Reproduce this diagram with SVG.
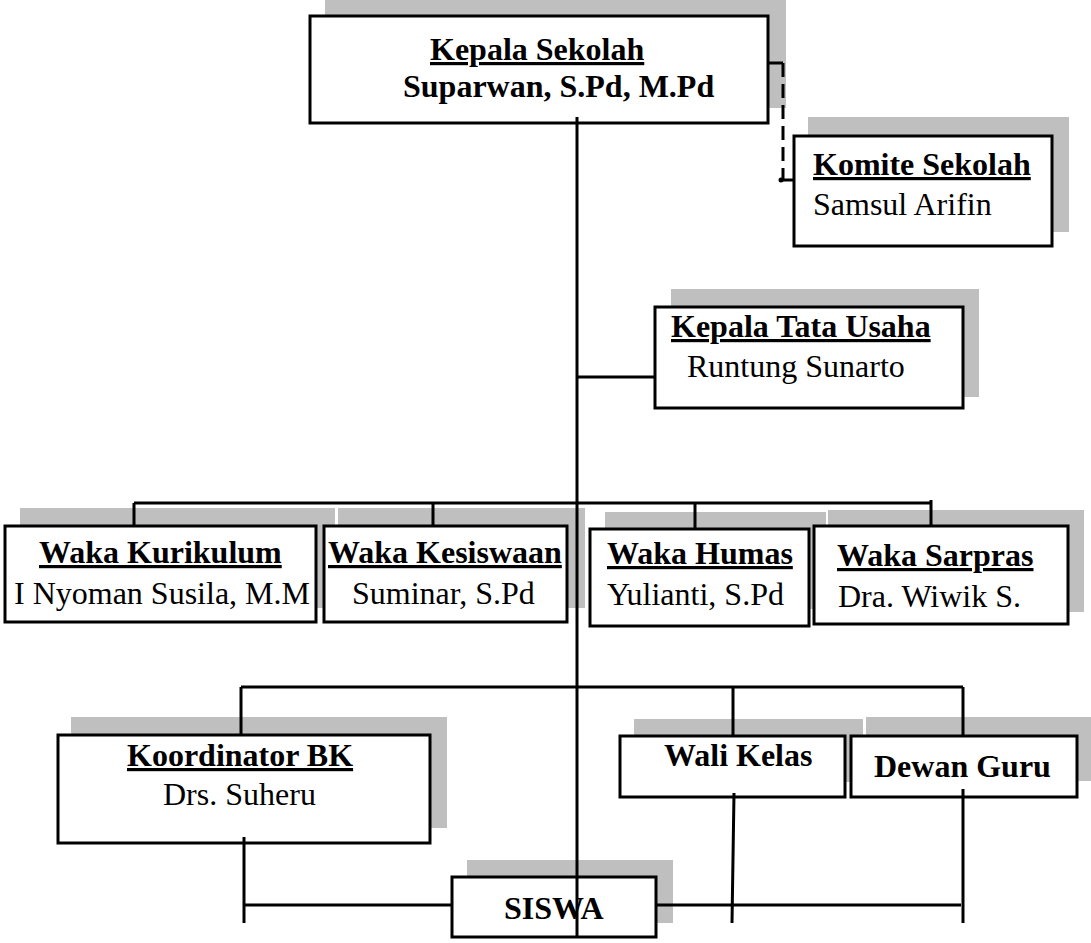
<svg xmlns="http://www.w3.org/2000/svg" width="1091" height="943" viewBox="0 0 1091 943">
<style>
.sh{fill:#bfbfbf}
.bx{fill:#fff;stroke:#000;stroke-width:3}
.t{font-family:"Liberation Serif","Times New Roman",serif;font-size:32px;fill:#000}
.b{font-weight:bold}
.u{text-decoration:underline;text-decoration-thickness:3px}
.ln{stroke:#000;stroke-width:3;fill:none}
.dash{stroke-dasharray:14 7}
</style>
<rect width="1091" height="943" fill="#fff"/>
<g id="kepala-sekolah">
<rect class="sh" x="325" y="0" width="461" height="108"/>
<rect class="bx" x="310" y="16" width="458" height="107"/>
<text class="t b u" x="430" y="60">Kepala Sekolah</text>
<text class="t b" x="403" y="97">Suparwan, S.Pd, M.Pd</text>
</g>
<g id="komite-sekolah">
<rect class="sh" x="808" y="117" width="261" height="115"/>
<rect class="bx" x="794" y="136" width="258" height="110"/>
<text class="t b u" x="813" y="175">Komite Sekolah</text>
<text class="t" x="813" y="215">Samsul Arifin</text>
</g>
<g id="kepala-tata-usaha">
<rect class="sh" x="671" y="289" width="308" height="108"/>
<rect class="bx" x="655" y="307" width="308" height="101"/>
<text class="t b u" x="671" y="337">Kepala Tata Usaha</text>
<text class="t" x="687" y="377">Runtung Sunarto</text>
</g>
<g id="waka-kurikulum">
<rect class="sh" x="20" y="508" width="315" height="100"/>
<rect class="bx" x="5" y="526" width="311" height="96"/>
<text class="t b u" x="39" y="563">Waka Kurikulum</text>
<text class="t" x="14" y="604">I Nyoman Susila, M.M</text>
</g>
<g id="waka-kesiswaan">
<rect class="sh" x="338" y="508" width="247" height="100"/>
<rect class="bx" x="324" y="526" width="243" height="96"/>
<text class="t b u" x="328" y="563">Waka Kesiswaan</text>
<text class="t" x="352" y="604">Suminar, S.Pd</text>
</g>
<g id="waka-humas">
<rect class="sh" x="605" y="512" width="221" height="97"/>
<rect class="bx" x="590" y="529" width="219" height="97"/>
<text class="t b u" x="607" y="564">Waka Humas</text>
<text class="t" x="607" y="605">Yulianti, S.Pd</text>
</g>
<g id="waka-sarpras">
<rect class="sh" x="828" y="510" width="256" height="102"/>
<rect class="bx" x="814" y="526" width="254" height="98"/>
<text class="t b u" x="837" y="566">Waka Sarpras</text>
<text class="t" x="838" y="607">Dra. Wiwik S.</text>
</g>
<g id="koordinator-bk">
<rect class="sh" x="71" y="717" width="376" height="111"/>
<rect class="bx" x="58" y="735" width="372" height="108"/>
<text class="t b u" x="127" y="766">Koordinator BK</text>
<text class="t" x="163" y="805">Drs. Suheru</text>
</g>
<g id="wali-kelas">
<rect class="sh" x="634" y="719" width="229" height="63"/>
<rect class="bx" x="620" y="736" width="225" height="61"/>
<text class="t b" x="664" y="766">Wali Kelas</text>
</g>
<g id="dewan-guru">
<rect class="sh" x="866" y="717" width="226" height="64"/>
<rect class="bx" x="851" y="736" width="226" height="61"/>
<text class="t b" x="874" y="777">Dewan Guru</text>
</g>
<g id="siswa">
<rect class="sh" x="467" y="860" width="206" height="63"/>
<rect class="bx" x="452" y="877" width="204" height="60"/>
<text class="t b" x="504" y="919">SISWA</text>
</g>
<g id="connectors">
<path class="ln" d="M577 117V937"/>
<path class="ln" d="M577 377H655"/>
<path class="ln" d="M134 503H931M134 503V526M433 503V526M695 503V529M931 500V526"/>
<path class="ln" d="M241 687H963M241 687V735M733 687V736M963 687V736"/>
<path class="ln" d="M244 837V923M244 905H452"/>
<path class="ln" d="M656 905H961M734 793L732 923M963 789V923"/>
<path class="ln" d="M768 63H783"/>
<path class="ln dash" d="M783 63V180"/>
<path class="ln" d="M781 180H794"/>
<circle cx="781" cy="180" r="2.5" fill="#000"/>
</g>
</svg>
